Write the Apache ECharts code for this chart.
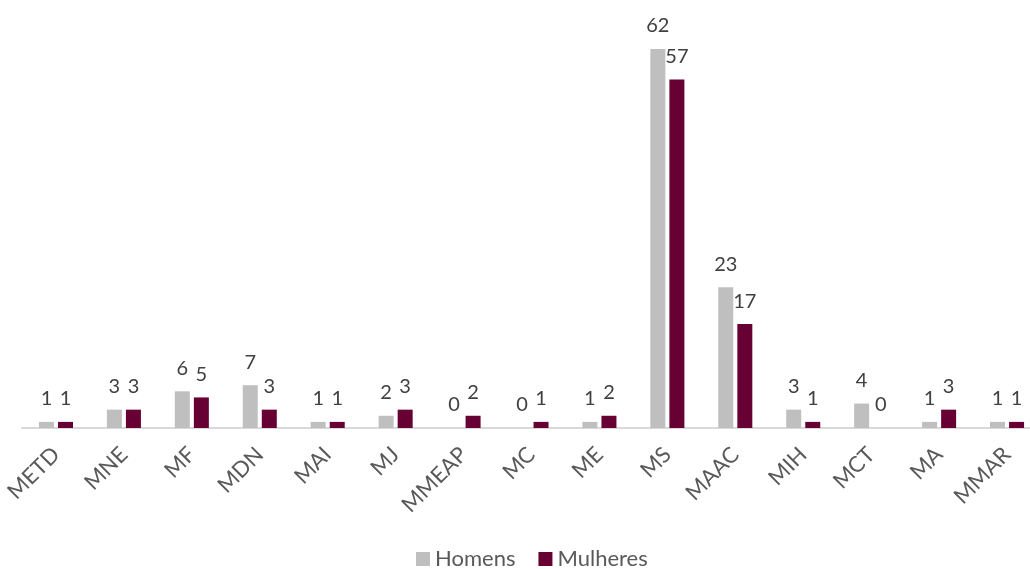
<!DOCTYPE html>
<html>
<head>
<meta charset="utf-8">
<script src="https://cdn.jsdelivr.net/npm/echarts@6/dist/echarts.min.js"></script>
<style>
  html, body { margin: 0; padding: 0; background: #fff; overflow: hidden; }
  #chart { width: 1041px; height: 569px; }
</style>
</head>
<body>
<div id="chart"></div>
<script>
const categories = ['METD', 'MNE', 'MF', 'MDN', 'MAI', 'MJ', 'MMEAP', 'MC', 'ME', 'MS', 'MAAC', 'MIH', 'MCT', 'MA', 'MMAR'];
const homens = [1, 3, 6, 7, 1, 2, 0, 0, 1, 62, 23, 3, 4, 1, 1];
const mulheres = [1, 3, 5, 3, 1, 3, 2, 1, 2, 57, 17, 1, 0, 3, 1];

const chart = echarts.init(document.getElementById('chart'));

const labelStyle = {
  show: true,
  position: 'top',
  distance: 13,
  color: '#404040',
  fontSize: 20,
  fontFamily: 'Lato'
};

chart.setOption({
  animation: false,
  textStyle: { fontFamily: 'Lato' },
  grid: { left: 22, right: 0, top: 0, bottom: 141 },
  legend: {
    data: ['Homens', 'Mulheres'],
    top: 543,
    left: 411,
    itemWidth: 14,
    itemHeight: 14,
    itemGap: 23,
    icon: 'rect',
    textStyle: { color: '#595959', fontSize: 22, fontFamily: 'Lato' }
  },
  xAxis: {
    type: 'category',
    data: categories,
    axisLine: { lineStyle: { color: '#D9D9D9', width: 2 } },
    axisTick: { show: false },
    axisLabel: {
      interval: 0,
      rotate: 45,
      margin: 23,
      color: '#595959',
      fontSize: 22,
      fontFamily: 'Lato'
    }
  },
  yAxis: {
    type: 'value',
    min: 0,
    max: 70,
    show: false
  },
  series: [
    {
      name: 'Homens',
      type: 'bar',
      data: homens,
      barWidth: 15,
      barGap: '27%',
      color: '#BFBFBF',
      label: labelStyle
    },
    {
      name: 'Mulheres',
      type: 'bar',
      data: mulheres,
      barWidth: 15,
      color: '#670033',
      label: labelStyle
    }
  ]
});
</script>
</body>
</html>
